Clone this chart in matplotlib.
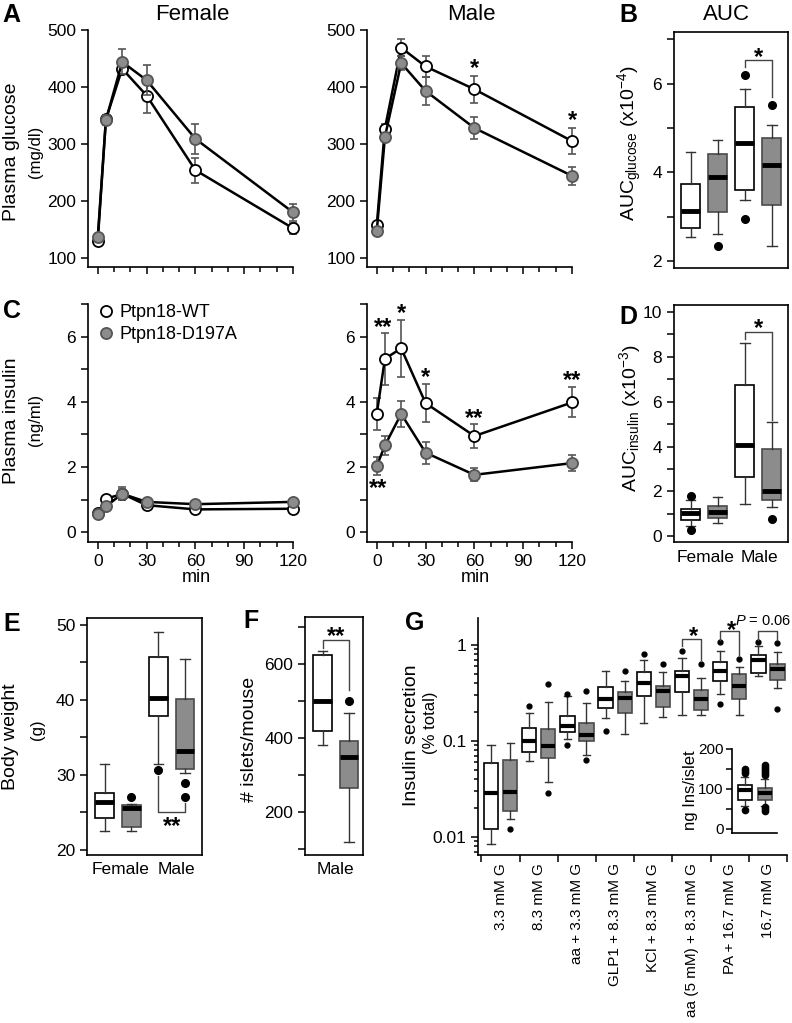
import numpy as np
import matplotlib
matplotlib.use('Agg')
import matplotlib.pyplot as plt

plt.rcParams['font.family'] = ['Liberation Sans', 'DejaVu Sans']
plt.rcParams['font.size'] = 12
plt.rcParams['mathtext.fontset'] = 'custom'
plt.rcParams['mathtext.rm'] = 'Liberation Sans'
plt.rcParams['mathtext.it'] = 'Liberation Sans:italic'
plt.rcParams['mathtext.default'] = 'regular'

########## Data ##########
t = [0, 5, 15, 30, 60, 120]

# plasma glucose (mg/dl), mean and sem
glu_f_wt = [130, 343, 432, 385, 254, 152]
glu_f_wt_sem = [5, 8, 10, 30, 22, 10]
glu_f_d = [136, 342, 444, 412, 309, 180]
glu_f_d_sem = [5, 8, 22, 26, 26, 15]
glu_m_wt = [157, 327, 469, 436, 396, 305]
glu_m_wt_sem = [6, 8, 15, 18, 24, 23]
glu_m_d = [147, 312, 442, 393, 328, 244]
glu_m_d_sem = [5, 6, 12, 24, 20, 16]

# plasma insulin (ng/ml)
ins_f_wt = [0.58, 1.02, 1.18, 0.83, 0.70, 0.72]
ins_f_wt_sem = [0.05, 0.06, 0.20, 0.06, 0.05, 0.06]
ins_f_d = [0.55, 0.79, 1.18, 0.93, 0.86, 0.93]
ins_f_d_sem = [0.05, 0.06, 0.15, 0.08, 0.06, 0.07]
ins_m_wt = [3.63, 5.32, 5.64, 3.96, 2.95, 3.98]
ins_m_wt_sem = [0.50, 0.80, 0.87, 0.58, 0.37, 0.46]
ins_m_d = [2.03, 2.66, 3.63, 2.44, 1.76, 2.12]
ins_m_d_sem = [0.29, 0.30, 0.41, 0.34, 0.20, 0.25]

# B: AUC glucose (x10^-4); order F-WT, F-D197A, M-WT, M-D197A
aucg_med = [3.13, 3.90, 4.66, 4.16]
aucg_q1 = [2.76, 3.10, 3.60, 3.27]
aucg_q3 = [3.75, 4.41, 5.47, 4.78]
aucg_lo = [2.54, 2.61, 3.38, 2.34]
aucg_hi = [4.46, 4.72, 5.88, 5.06]
aucg_fl = [[], [2.34], [6.2, 2.96], [5.51]]

# D: AUC insulin (x10^-3)
auci_med = [1.04, 1.10, 4.08, 2.00]
auci_q1 = [0.71, 0.82, 2.66, 1.60]
auci_q3 = [1.23, 1.36, 6.74, 3.90]
auci_lo = [0.45, 0.60, 1.43, 1.30]
auci_hi = [1.60, 1.75, 8.60, 5.08]
auci_fl = [[1.80, 0.27], [], [], [0.77]]

# E: body weight (g)
bw_med = [26.4, 25.6, 40.2, 33.2]
bw_q1 = [24.2, 23.0, 37.9, 30.8]
bw_q3 = [27.6, 26.0, 45.7, 40.1]
bw_lo = [22.5, 22.5, 31.4, 30.3]
bw_hi = [31.5, 26.1, 49.0, 45.4]
bw_fl = [[], [27.1], [30.6], [28.9, 27.0]]

# F: islets per mouse (male)
isl_med = [500, 347]
isl_q1 = [417, 263]
isl_q3 = [622, 392]
isl_lo = [379, 119]
isl_hi = [633, 466]
isl_fl = [[], [498]]

# G: insulin secretion (% total), WT / D197A alternating per condition
cats = ['3.3 mM G', '8.3 mM G', 'aa + 3.3 mM G', 'GLP1 + 8.3 mM G',
        'KCl + 8.3 mM G', 'aa (5 mM) + 8.3 mM G', 'PA + 16.7 mM G', '16.7 mM G']
sec_med = [0.029, 0.0296, 0.0987, 0.0893, 0.143, 0.115, 0.274, 0.282,
           0.399, 0.334, 0.479, 0.272, 0.54, 0.377, 0.698, 0.558]
sec_q1 = [0.012, 0.0188, 0.0774, 0.066, 0.123, 0.100, 0.222, 0.197,
          0.296, 0.228, 0.326, 0.21, 0.42, 0.274, 0.507, 0.432]
sec_q3 = [0.0586, 0.0626, 0.1356, 0.133, 0.182, 0.155, 0.368, 0.326,
          0.527, 0.374, 0.54, 0.339, 0.67, 0.498, 0.787, 0.634]
sec_lo = [0.0085, 0.0154, 0.0619, 0.0376, 0.104, 0.0716, 0.172, 0.118,
          0.153, 0.179, 0.187, 0.187, 0.309, 0.187, 0.476, 0.354]
sec_hi = [0.091, 0.096, 0.197, 0.256, 0.29, 0.25, 0.536, 0.425,
          0.698, 0.515, 0.727, 0.45, 0.872, 0.59, 0.96, 0.832]
sec_fl = [[], [0.012], [0.231], [0.39, 0.029], [0.305, 0.091], [0.334, 0.0626],
          [0.127], [0.54], [0.806], [0.63], [0.872], [0.634],
          [1.06, 0.243], [0.715], [1.06], [1.04, 0.214]]

# G inset: ng insulin per islet
nis_med = [96, 90]
nis_q1 = [71, 71]
nis_q3 = [110, 102]
nis_lo = [58, 58]
nis_hi = [130, 125]
nis_fl = [[140, 145, 150, 48], [135, 140, 145, 150, 155, 160, 45, 50, 55]]

########## Figure ##########
W, H = 792, 1023
fig = plt.figure(figsize=(W / 100, H / 100), dpi=100)
GRAY = '#8c8c8c'
DGRAY = '#4a4a4a'


def px_axes(x0, y0, x1, y1):
    return fig.add_axes([x0 / W, 1 - y1 / H, (x1 - x0) / W, (y1 - y0) / H])


def ftext(x, y, s, **kw):
    kw.setdefault('ha', 'center')
    kw.setdefault('va', 'center')
    fig.text(x / W, 1 - y / H, s, **kw)


def style(ax, full=False):
    for s in ['top', 'right']:
        ax.spines[s].set_visible(full)
    for s in ax.spines.values():
        s.set_linewidth(1.2)
    ax.tick_params(which='both', direction='out', width=1.1, labelsize=12.5, length=5)
    ax.tick_params(which='minor', length=5)


def timecourse(ax, y, e, face, z):
    ax.errorbar(t, y, yerr=e, fmt='none', ecolor='#555555', elinewidth=1.2,
                capsize=3, capthick=1.2, zorder=z, clip_on=False)
    ax.plot(t, y, '-o', color='black', lw=1.8, ms=8, mfc=face,
            mec='black' if face == 'white' else '#555555', mew=1.3,
            zorder=z + 1, clip_on=False)


def boxes(ax, pos, med, q1, q3, lo, hi, fl, width, ms, medlw=3.5):
    stats = [dict(med=med[i], q1=q1[i], q3=q3[i], whislo=lo[i], whishi=hi[i],
                  fliers=fl[i]) for i in range(len(med))]
    art = ax.bxp(stats, positions=pos, widths=width, patch_artist=True,
                 manage_ticks=False,
                 medianprops=dict(color='black', lw=medlw, solid_capstyle='butt'),
                 whiskerprops=dict(color='#333333', lw=1.0),
                 capprops=dict(color='#333333', lw=1.0),
                 flierprops=dict(marker='o', mfc='black', mec='black', ms=ms))
    for i, b in enumerate(art['boxes']):
        if i % 2 == 0:
            b.set_facecolor('white'); b.set_edgecolor('black')
        else:
            b.set_facecolor(GRAY); b.set_edgecolor(DGRAY)
        b.set_linewidth(1.2)


def star(ax, x, y, s, size=17):
    # glyph sits high in its box, nudge down a bit
    ax.annotate(s, (x, y), xytext=(0, -4), textcoords='offset points',
                ha='center', va='center', fontsize=size, fontweight='bold',
                annotation_clip=False)


def bracket(ax, x0, x1, ytop, yl, yr):
    ax.plot([x0, x0, x1, x1], [yl, ytop, ytop, yr], color='#444444', lw=1.0,
            clip_on=False)


########## A: glucose ##########
for (x0, x1), wt, wts, d, ds, title in [((88, 293), glu_f_wt, glu_f_wt_sem, glu_f_d, glu_f_d_sem, 'Female'),
                                         ((367, 572), glu_m_wt, glu_m_wt_sem, glu_m_d, glu_m_d_sem, 'Male')]:
    ax = px_axes(x0, 30, x1, 267)
    style(ax)
    timecourse(ax, wt, wts, 'white', 3)
    timecourse(ax, d, ds, GRAY, 5)
    ax.set_xlim(-6, 120)
    ax.set_ylim(84, 500)
    ax.set_yticks([100, 200, 300, 400, 500])
    ax.set_xticks([0, 30, 60, 90, 120])
    ax.set_xticks(range(0, 121, 10), minor=True)
    ax.tick_params(axis='x', which='minor', length=3.5)
    ax.set_xticklabels([])
    ftext((x0 + x1) / 2 + 2, 15, title, fontsize=16)
    if title == 'Male':
        star(ax, 60, 442, '*')
        star(ax, 120, 351, '*')

ftext(12, 152, 'Plasma glucose', rotation=90, fontsize=14)
ftext(35, 152, '(mg/dl)', rotation=90, fontsize=12)

########## C: insulin ##########
for (x0, x1), wt, wts, d, ds, sex in [((88, 293), ins_f_wt, ins_f_wt_sem, ins_f_d, ins_f_d_sem, 'F'),
                                       ((367, 572), ins_m_wt, ins_m_wt_sem, ins_m_d, ins_m_d_sem, 'M')]:
    ax = px_axes(x0, 304, x1, 542)
    style(ax)
    timecourse(ax, wt, wts, 'white', 3)
    timecourse(ax, d, ds, GRAY, 5)
    ax.set_xlim(-6, 120)
    ax.set_ylim(-0.3, 7.0)
    ax.set_yticks([0, 2, 4, 6])
    ax.set_yticks([1, 3, 5, 7], minor=True)
    ax.set_xticks([0, 30, 60, 90, 120])
    ax.set_xticks(range(0, 121, 10), minor=True)
    ax.tick_params(axis='x', which='minor', length=3.5)
    ftext(x0 + 108, 577, 'min', fontsize=13)
    if sex == 'F':
        h1, = ax.plot([], [], 'o', ms=8, mfc='white', mec='black', mew=1.3)
        h2, = ax.plot([], [], 'o', ms=8, mfc=GRAY, mec='#555555', mew=1.3)
        ax.legend([h1, h2], ['Ptpn18-WT', 'Ptpn18-D197A'], loc='upper left',
                  bbox_to_anchor=(0.02, 1.03), frameon=False, handlelength=0.7,
                  handletextpad=0.4, labelspacing=0.3, fontsize=13, borderaxespad=0)
    else:
        star(ax, 3.9, 6.45, '**')
        star(ax, 15, 6.88, '*')
        star(ax, 30, 4.93, '*')
        star(ax, 60, 3.66, '**')
        star(ax, 0.8, 1.5, '**')
        star(ax, 120, 4.83, '**')

ftext(12, 421, 'Plasma insulin', rotation=90, fontsize=14)
ftext(35, 420, '(ng/ml)', rotation=90, fontsize=12)

########## B: AUC glucose ##########
ax = px_axes(674, 32, 788, 268)
style(ax, full=True)
boxes(ax, [1, 2, 3, 4], aucg_med, aucg_q1, aucg_q3, aucg_lo, aucg_hi, aucg_fl, 0.7, 5.5)
ax.set_xlim(0.38, 4.6)
ax.set_ylim(1.85, 7.16)
ax.set_yticks([2, 4, 6])
ax.set_yticks([3, 5, 7], minor=True)
ax.set_xticks([])
bracket(ax, 3, 4, 6.54, 6.38, 5.70)
star(ax, 3.5, 6.71, '*')
ftext(726, 15, 'AUC', fontsize=16)
ftext(630, 143, r'AUC$_{glucose}$ (x10$^{-4}$)', rotation=90, fontsize=14)

########## D: AUC insulin ##########
ax = px_axes(674, 305, 788, 542)
style(ax, full=True)
boxes(ax, [1, 2, 3, 4], auci_med, auci_q1, auci_q3, auci_lo, auci_hi, auci_fl, 0.7, 5.5)
ax.set_xlim(0.38, 4.6)
ax.set_ylim(-0.25, 10.3)
ax.set_yticks([0, 2, 4, 6, 8, 10])
ax.set_yticks([1, 3, 5, 7, 9], minor=True)
ax.set_xticks([])
bracket(ax, 3, 4, 9.1, 8.8, 5.2)
star(ax, 3.5, 9.5, '*')
ftext(630, 418, r'AUC$_{insulin}$ (x10$^{-3}$)', rotation=90, fontsize=14)
ftext(706, 558, 'Female', fontsize=12.5)
ftext(759, 558, 'Male', fontsize=12.5)

########## E: body weight ##########
ax = px_axes(87, 618, 202, 855)
style(ax, full=True)
boxes(ax, [1, 2, 3, 4], bw_med, bw_q1, bw_q3, bw_lo, bw_hi, bw_fl, 0.7, 5.5)
ax.set_xlim(0.34, 4.63)
ax.set_ylim(19.33, 50.9)
ax.set_yticks([20, 30, 40, 50])
ax.set_yticks([25, 35, 45], minor=True)
ax.set_xticks([])
bracket(ax, 3, 4, 25.1, 29.8, 26.2)
star(ax, 3.5, 23.8, '**')
ftext(11, 737, 'Body weight', rotation=90, fontsize=14)
ftext(37, 730, '(g)', rotation=90, fontsize=12)
ftext(121, 870, 'Female', fontsize=12.5)
ftext(176, 870, 'Male', fontsize=12.5)

########## F: islets ##########
ax = px_axes(305, 617, 363, 855)
style(ax, full=True)
boxes(ax, [1, 2], isl_med, isl_q1, isl_q3, isl_lo, isl_hi, isl_fl, 0.7, 5.5)
ax.set_xlim(0.33, 2.53)
ax.set_ylim(83, 726)
ax.set_yticks([200, 400, 600])
ax.set_yticks([100, 300, 500, 700], minor=True)
ax.set_xticks([])
bracket(ax, 1, 2, 663, 643, 530)
star(ax, 1.5, 688, '**')
ftext(250, 739, '# islets/mouse', rotation=90, fontsize=14)
ftext(335, 870, 'Male', fontsize=12.5)

########## G: insulin secretion ##########
ax = px_axes(478, 618, 787, 855)
style(ax)
pos = []
for i in range(len(cats)):
    pos += [i + 0.25, i + 0.75]
boxes(ax, pos, sec_med, sec_q1, sec_q3, sec_lo, sec_hi, sec_fl, 0.375, 3.5, medlw=3)
ax.set_yscale('log')
ax.set_ylim(0.0065, 1.9)
ax.set_xlim(-0.09, 8.0)
ax.set_yticks([0.01, 0.1, 1])
ax.set_yticklabels(['0.01', '0.1', '1'])
ax.tick_params(axis='y', which='minor', length=3)
ax.set_xticks(range(len(cats) + 1))
ax.set_xticklabels([])
ax.set_xticks([i + 0.5 for i in range(len(cats))], minor=True)
ax.set_xticklabels(cats, minor=True, rotation=90, fontsize=11)
ax.tick_params(axis='x', which='minor', length=0, pad=6)
bracket(ax, 5.25, 5.75, 1.155, 0.96, 0.70)
star(ax, 5.55, 1.40, '*')
bracket(ax, 6.25, 6.75, 1.375, 1.13, 0.79)
star(ax, 6.55, 1.62, '*')
bracket(ax, 7.25, 7.75, 1.375, 1.13, 1.13)
ax.text(7.38, 1.78, '$\\it{P}$ = 0.06', ha='center', va='center', fontsize=10.5,
        clip_on=False)
ftext(412, 735, 'Insulin secretion', rotation=90, fontsize=14)
ftext(430, 723, '(% total)', rotation=90, fontsize=12)

# inset
ax = px_axes(732, 749, 777, 833)
style(ax)
boxes(ax, [1, 2], nis_med, nis_q1, nis_q3, nis_lo, nis_hi, nis_fl, 0.7, 4.5, medlw=3)
ax.set_xlim(0.37, 2.6)
ax.set_ylim(-10.8, 200)
ax.set_yticks([0, 100, 200])
ax.set_yticks([50, 150], minor=True)
ax.tick_params(labelsize=11, length=4, pad=2)
ax.tick_params(which='minor', length=4)
ax.set_xticks([])
ftext(690, 790, 'ng Ins/islet', rotation=90, fontsize=12)

########## panel letters ##########
for x, y, s in [(11, 15, 'A'), (628, 15, 'B'), (12, 311, 'C'), (628, 317, 'D'),
                (12, 624, 'E'), (251, 621, 'F'), (415, 623, 'G')]:
    ftext(x, y, s, fontsize=18, fontweight='bold')

fig.savefig('out.png', dpi=100)
